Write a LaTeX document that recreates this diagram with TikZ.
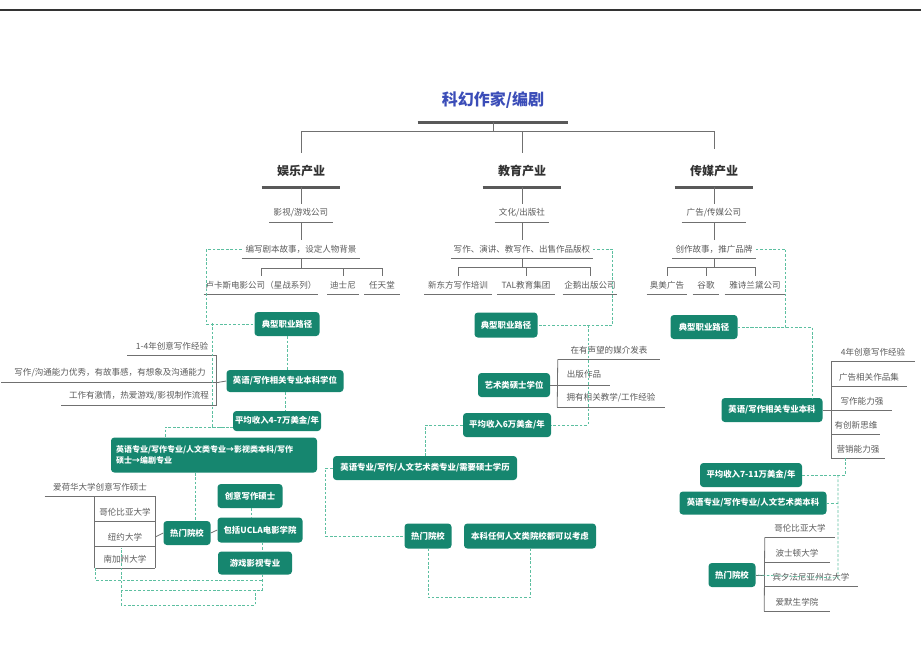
\documentclass[tikz,border=0pt]{standalone}
\usepackage{fontspec}
\setmainfont{Noto Sans CJK SC}
\definecolor{teal1}{HTML}{16866F}
\definecolor{txtgray}{HTML}{5A5A5A}
\definecolor{linegray}{HTML}{707070}
\definecolor{dgreen}{HTML}{5CBFA0}
\definecolor{titleblue}{HTML}{3B4DB8}
\tikzset{
  bw/.style={minimum width=#1*0.75pt},
  bh/.style={minimum height=#1*0.75pt},
  gbox/.style={fill=teal1, rounded corners=2.5pt, text=white, inner sep=0pt, align=center,
     font=\fontsize{6.3}{7.5}\selectfont\bfseries},
  itm/.style={text=txtgray, inner sep=0pt, minimum height=13.5pt, font=\fontsize{6.4}{7.5}\selectfont},
  head/.style={inner sep=0pt, minimum height=24pt, text=black!80, font=\fontsize{9}{10}\selectfont\bfseries},
  ul/.style={draw=linegray, line width=0.6pt},
  hul/.style={draw=black!65, line width=2pt},
  tl/.style={draw=linegray, line width=0.6pt},
  dl/.style={draw=dgreen, line width=0.55pt, dash pattern=on 2pt off 1.3pt},
}
\begin{document}
\begin{tikzpicture}[x=0.75pt,y=-0.75pt]
\useasboundingbox (0,0) rectangle (921,669);
\draw[black!80, line width=1.4pt] (0,10) -- (921,10);

% ---------- title and branches
\node[inner sep=0pt, minimum height=33pt, bw=150, text=titleblue, font=\fontsize{12}{14}\selectfont\bfseries] (T) at (493,100) {科幻作家/编剧};
\node[head, bw=78] (B1) at (301,171) {娱乐产业};
\node[head, bw=78] (B2) at (522,171) {教育产业};
\node[head, bw=78] (B3) at (714,171) {传媒产业};
\foreach \n in {T,B1,B2,B3} \draw[hul] (\n.south west) -- (\n.south east);
\draw[tl] (T.south) -- ++(0,9) coordinate (tj);
\draw[tl] (B1.north |- tj) -- (B3.north |- tj);
\draw[tl] (B1.north |- tj) -- ++(0,22);
\draw[tl] (B2.north |- tj) -- ++(0,22);
\draw[tl] (B3.north |- tj) -- ++(0,18);

% ---------- entertainment tree
\node[itm, bw=63] (e1) at (301,213) {影视/游戏公司};
\node[itm, bw=118] (e2) at (301,249) {编写剧本故事，设定人物背景};
\node[itm, bw=114] (e3) at (261,285) {卢卡斯电影公司（星战系列）};
\node[itm, bw=31] (e4) at (343,285) {迪士尼};
\node[itm, bw=35] (e5) at (382,285) {任天堂};
\draw[tl] (B1.south) -- (e1.north);
\draw[tl] (e1.south) -- (e2.north);
\draw[tl] (e2.south) -- ++(0,10) coordinate (ej);
\draw[tl] (e3.north) |- (ej) -| (e5.north);
\draw[tl] (e4.north) -- (e4.north |- ej);

% ---------- education tree
\node[itm, bw=54] (d1) at (522,213) {文化/出版社};
\node[itm, bw=141] (d2) at (522,249) {写作、演讲、教写作、出售作品版权};
\node[itm, bw=67] (d3) at (458,285) {新东方写作培训};
\node[itm, bw=57] (d4) at (526,285) {TAL教育集团};
\node[itm, bw=54] (d5) at (590,285) {企鹅出版公司};
\draw[tl] (B2.south) -- (d1.north);
\draw[tl] (d1.south) -- (d2.north);
\draw[tl] (d2.south) -- ++(0,9) coordinate (dj);
\draw[tl] (d3.north) |- (dj) -| (d5.north);
\draw[tl] (d4.north) -- (d4.north |- dj);

% ---------- media tree
\node[itm, bw=64] (m1) at (714,213) {广告/传媒公司};
\node[itm, bw=83] (m2) at (714,249) {创作故事，推广品牌};
\node[itm, bw=40] (m3) at (667,285) {奥美广告};
\node[itm, bw=26] (m4) at (706,285) {谷歌};
\node[itm, bw=60] (m5) at (755,285) {雅诗兰黛公司};
\draw[tl] (B3.south) -- (m1.north);
\draw[tl] (m1.south) -- (m2.north);
\draw[tl] (m2.south) -- ++(0,9) coordinate (mj);
\draw[tl] (m3.north) |- (mj) -| (m5.north);
\draw[tl] (m4.north) -- (m4.north |- mj);

\foreach \n in {e1,e2,e3,e4,e5,d1,d2,d3,d4,d5,m1,m2,m3,m4,m5} \draw[ul] (\n.south west) -- (\n.south east);

% ---------- entertainment path
\node[gbox, bw=65, bh=24] (E1) at (287,324) {典型职业路径};
\node[gbox, bw=117, bh=22] (E2) at (285,381) {英语/写作相关专业本科学位};
\node[gbox, bw=88, bh=20] (E3) at (277,421) {平均收入4-7万美金/年};
\node[gbox, bw=206, bh=35, align=left, text width=196*0.75pt, font=\fontsize{6}{8}\selectfont\bfseries] (E4) at (214,455) {英语专业/写作专业/人文类专业→影视类本科/写作\\硕士→编剧专业};
\node[gbox, bw=47, bh=24] (E5) at (187,533) {热门院校};
\node[gbox, bw=65, bh=24] (E6) at (250,496) {创意写作硕士};
\node[gbox, bw=85, bh=25] (E7) at (260,530) {包括UCLA电影学院};
\node[gbox, bw=74, bh=23] (E8) at (255,563) {游戏影视专业};

\node[itm, bw=89] (l1) at (172,346) {1-4年创意写作经验};
\node[itm, bw=217] (l2) at (110,373) {写作/沟通能力优秀，有故事感，有想象及沟通能力};
\node[itm, bw=155] (l3) at (139,396) {工作有激情，热爱游戏/影视制作流程};
\foreach \n in {l1,l2,l3} \draw[ul] (\n.south west) -- (\n.south east);
\draw[tl] (l1.south east) -- (l3.south east);
\draw[tl] (l2.south east) -- (E2.west);

\node[itm, bw=110] (s1) at (100,487) {爱荷华大学创意写作硕士};
\node[itm, bw=60] (s2) at (125,512) {哥伦比亚大学};
\node[itm, bw=60] (s3) at (125,537) {纽约大学};
\node[itm, bw=60] (s4) at (125,559) {南加州大学};
\foreach \n in {s1,s2,s3,s4} \draw[ul] (\n.south west) -- (\n.south east);
\draw[tl] (s1.south east) -- (s4.south east);
\draw[tl] (s2.south west |- s1.south) -- (s4.south west);
\draw[tl] (s3.east) -- (E5.west);
\draw[tl] (E5.east) -- (E7.west);

\draw[dl] (e2.west) -- ++(-35,0) |- (E1.west);
\draw[dl] (E1.south) -- (E1.south |- E2.north);
\draw[dl] (E2.south) -- (E2.south |- E3.north);
\draw[dl] (212,323) -- (212,427) -- (E3.west |- 0,427);
\draw[dl] (E3.west |- 0,427) -- (165,427) -- (165,438);
\draw[dl] (195,473) -- (E5.north -| 195,0);
\draw[dl] (E6.south -| 251,0) -- (E7.north -| 251,0);
\draw[dl] (E7.south -| 262,0) -- (E8.north -| 262,0);
\draw[dl] (E8.south -| 262,0) -- (262,590) -- (121,590) -- (121,548);
\draw[dl] (95,568) -- (95,580) -- (262,580);
\draw[dl] (121,590) -- (121,605) -- (255,605) -- (255,590);

% ---------- education path
\node[gbox, bw=63, bh=25] (D1) at (506,325) {典型职业路径};
\node[gbox, bw=72, bh=24] (D2) at (514,385) {艺术类硕士学位};
\node[gbox, bw=88, bh=24] (D3) at (507,425) {平均收入6万美金/年};
\node[gbox, bw=184, bh=24] (D4) at (425,468) {英语专业/写作/人文艺术类专业/需要硕士学历};
\node[gbox, bw=47, bh=25] (D5) at (428,536) {热门院校};
\node[gbox, bw=132, bh=25] (D6) at (530,536) {本科任何人文类院校都可以考虑};

\node[itm, bw=102] (r1) at (609,350) {在有声望的媒介发表};
\node[itm, bw=52] (r2) at (584,374) {出版作品};
\node[itm, bw=107] (r3) at (611,398) {拥有相关教学/工作经验};
\foreach \n in {r1,r3} \draw[ul] (\n.south west) -- (\n.south east);
\draw[tl] (r1.south west) -- (r3.south west);
\draw[tl] (D2.east) -- (r2.south east |- D2.east);

\draw[dl] (d2.east) -- ++(20,0) |- (D1.east);
\coordinate (dk) at (588,325);
\draw[dl] (dk) |- (D3.east);
\draw[dl] (D3.west) -| (D4.north);
\draw[dl] (D4.west) -- ++(-7,0) |- (D5.west);
\draw[dl] (D5.south) -- ++(0,49) -| (D6.south);

% ---------- media path
\node[gbox, bw=67, bh=24] (M1) at (704,327) {典型职业路径};
\node[gbox, bw=101, bh=24] (M2) at (772,410) {英语/写作相关专业本科};
\node[gbox, bw=102, bh=24] (M3) at (751,475) {平均收入7-11万美金/年};
\node[gbox, bw=147, bh=23] (M4) at (753,503) {英语专业/写作专业/人文艺术类本科};
\node[gbox, bw=47, bh=24] (M5) at (732,575) {热门院校};

\node[itm, bw=83] (n1) at (873,352) {4年创意写作经验};
\node[itm, bw=75] (n2) at (869,377) {广告相关作品集};
\node[itm, bw=60] (n3) at (862,401) {写作能力强};
\node[itm, bw=48] (n4) at (856,425) {有创新思维};
\node[itm, bw=53] (n5) at (858,449) {营销能力强};
\foreach \n in {n1,n2,n3,n4,n5} \draw[ul] (\n.south west) -- (\n.south east);
\draw[tl] (n1.south west) -- (n5.south west);
\draw[tl] (M2.east) -- (n1.south west |- M2.east);

\node[itm, bw=70] (t1) at (800,528) {哥伦比亚大学};
\node[itm, bw=65] (t2) at (797,553) {波士顿大学};
\node[itm, bw=93] (t3) at (811,577) {宾夕法尼亚州立大学};
\node[itm, bw=65] (t4) at (797,602) {爱默生学院};
\foreach \n in {t1,t2,t3,t4} \draw[ul] (\n.south west) -- (\n.south east);
\draw[tl] (t1.south west) -- (t4.south west);
\draw[tl] (M5.east) -- (t3.west |- M5.east);

\draw[dl] (m2.east) -- ++(30,0) |- (M1.east);
\draw[dl] (M1.east) -| (812,398);
\draw[dl] (M3.east) -- (845,475) -- (845,458);
\draw[dl] (M4.east) -- (838,503);
\draw[dl] (838,475) -- (838,578) -- (M5.east);
\end{tikzpicture}
\end{document}
